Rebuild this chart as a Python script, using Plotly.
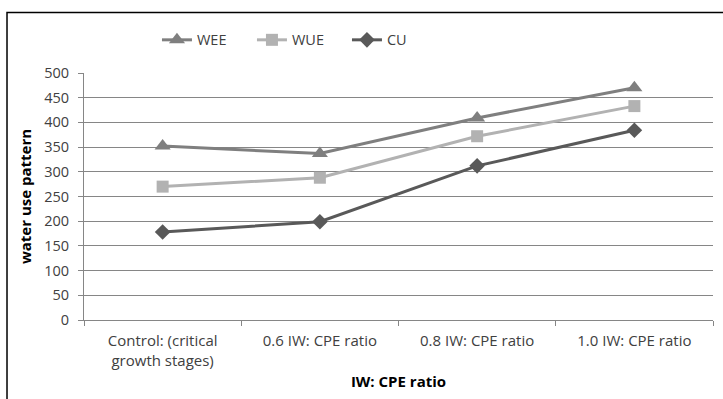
import plotly.graph_objects as go

categories = ["Control: (critical<br>growth stages)", "0.6 IW: CPE ratio", "0.8 IW: CPE ratio", "1.0 IW: CPE ratio"]
wee = [352, 337, 409, 470]
wue = [270, 288, 372, 433]
cu = [178, 199, 312, 384]
y_ticks = [0, 50, 100, 150, 200, 250, 300, 350, 400, 450, 500]

fig = go.Figure()
fig.add_trace(go.Scatter(x=categories, y=wee, name="WEE", mode="lines+markers",
                         line=dict(color="#7f7f7f", width=3),
                         marker=dict(symbol="triangle-up", size=14, color="#7f7f7f")))
fig.add_trace(go.Scatter(x=categories, y=wue, name="WUE", mode="lines+markers",
                         line=dict(color="#b2b2b2", width=3),
                         marker=dict(symbol="square", size=12, color="#b2b2b2")))
fig.add_trace(go.Scatter(x=categories, y=cu, name="CU", mode="lines+markers",
                         line=dict(color="#595959", width=3),
                         marker=dict(symbol="diamond", size=12, color="#595959")))

font_family = "Open Sans"
fig.update_layout(
    width=723, height=399,
    margin=dict(l=84, r=10, t=73, b=79),
    paper_bgcolor="white", plot_bgcolor="white",
    font=dict(family=font_family, size=14.5, color="#404040"),
    showlegend=True,
    legend=dict(orientation="h", x=0.116, xanchor="left", y=1.134, yanchor="middle",
                font=dict(size=14.5, color="#404040"), itemwidth=30,
                entrywidth=50, entrywidthmode="pixels",
                bgcolor="rgba(0,0,0,0)", tracegroupgap=0),
    xaxis=dict(
        type="category", showgrid=False, showline=True, linecolor="#868686", linewidth=1,
        ticks="outside", tickson="boundaries", ticklen=5, tickcolor="#868686",
        tickfont=dict(size=15, color="#404040"), ticklabelstandoff=7,
        title=dict(text="<b>IW: CPE ratio</b>", font=dict(size=15, color="#000000"), standoff=7),
        range=[-0.5, 3.5],
    ),
    yaxis=dict(
        range=[0, 500], tickvals=y_ticks, showgrid=True, gridcolor="#868686", gridwidth=1,
        showline=True, linecolor="#868686", linewidth=1, ticks="outside", ticklen=5,
        tickcolor="#868686", tickfont=dict(size=14.5, color="#404040"), ticklabelstandoff=6,
        zeroline=False,
        title=dict(text="<b>water use pattern</b>", font=dict(size=15, color="#000000"), standoff=8),
    ),
)

fig.add_shape(type="rect", xref="paper", yref="paper",
              x0=-0.1224, x1=1.1, y0=-0.5, y1=1.245,
              line=dict(color="#000000", width=1.5), fillcolor="rgba(0,0,0,0)", layer="below")

fig.write_html("out.html")
